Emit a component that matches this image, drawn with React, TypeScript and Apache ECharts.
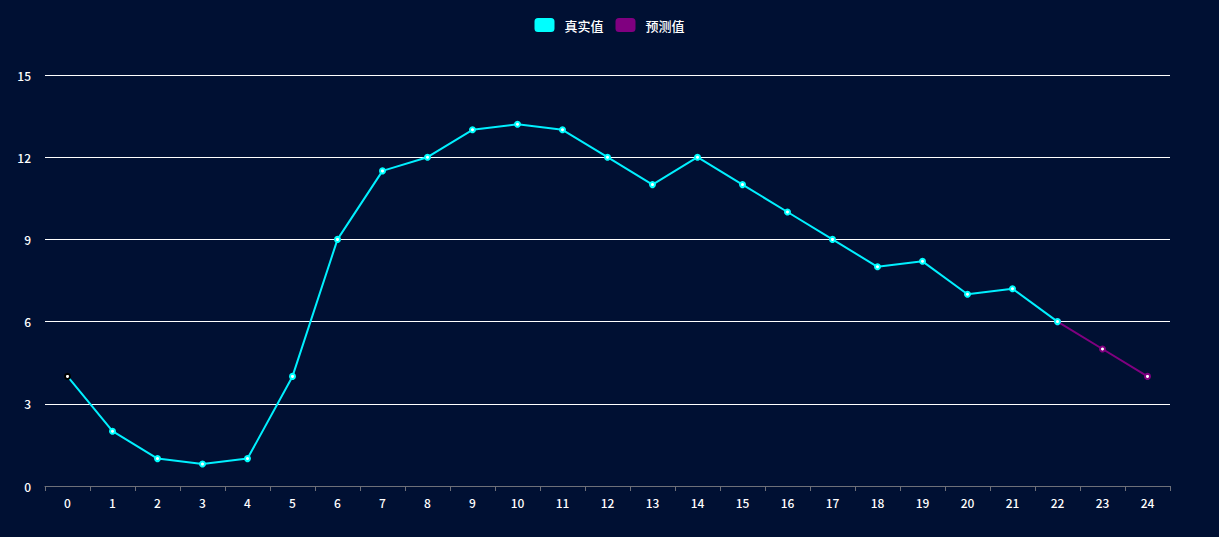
import React, { useEffect, useRef } from "react";
import * as echarts from "echarts";

const categories = ["0","1","2","3","4","5","6","7","8","9","10","11","12","13","14","15","16","17","18","19","20","21","22","23","24"];
const actualValues: (number | string)[] = [4, 2, 1, 0.8, 1, 4, 9, 11.5, 12, 13, 13.2, 13, 12, 11, 12, 11, 10, 9, 8, 8.2, 7, 7.2, 6, "-", "-"];
const predictedValues: (number | string)[] = ["-", "-", "-", "-", "-", "-", "-", "-", "-", "-", "-", "-", "-", "-", "-", "-", "-", "-", "-", "-", "-", "-", 6, 5, 4];
const yTicks = { min: 0, max: 15, interval: 3 };

export default function App() {
  const ref = useRef<HTMLDivElement>(null);
  useEffect(() => {
    if (!ref.current) return;
    const chart = echarts.init(ref.current, undefined, { renderer: "svg" });
    const font = "'Noto Sans CJK SC', 'Noto Sans', sans-serif";
    chart.setOption({
      animation: false,
      backgroundColor: "#001033",
      textStyle: { fontFamily: font },
      legend: {
        top: 13,
        left: "center",
        icon: "roundRect",
        itemWidth: 20,
        itemHeight: 14,
        itemGap: 12,
        textStyle: { color: "#fff", fontSize: 13, fontWeight: 500, fontFamily: font, padding: [0, 0, 0, 5] },
        data: ["真实值", "预测值"],
      },
      grid: { left: 45, right: 49, top: 75, bottom: 51 },
      xAxis: {
        type: "category",
        data: categories,
        boundaryGap: true,
        axisLine: { show: true, lineStyle: { color: "#6e7079" } },
        axisTick: { show: true, length: 5, lineStyle: { color: "#6e7079" } },
        axisLabel: { color: "#fff", fontSize: 12, fontWeight: 500, margin: 10 },
      },
      yAxis: {
        type: "value",
        min: yTicks.min,
        max: yTicks.max,
        interval: yTicks.interval,
        axisLine: { show: false },
        axisTick: { show: false },
        axisLabel: { color: "#fff", fontSize: 12, fontWeight: 500, margin: 14 },
        splitLine: { lineStyle: { color: "#fff", width: 1 } },
      },
      series: [
        {
          name: "真实值",
          type: "line",
          z: 3,
          data: actualValues.map((v, i) =>
            i === 0 ? { value: v, itemStyle: { color: "#000" } } : v
          ),
          symbol: "emptyCircle",
          symbolSize: 5,
          itemStyle: { color: "#00ffff" },
          lineStyle: { color: "#00f0ff", width: 2 },
        },
        {
          name: "预测值",
          type: "line",
          z: 2,
          data: predictedValues,
          symbol: "emptyCircle",
          symbolSize: 5,
          itemStyle: { color: "#800080" },
          lineStyle: { color: "#800080", width: 2 },
        },
      ],
    });
    return () => chart.dispose();
  }, []);
  return <div ref={ref} style={{ width: 1219, height: 537, position: "absolute", left: 0, top: 0 }} />;
}
